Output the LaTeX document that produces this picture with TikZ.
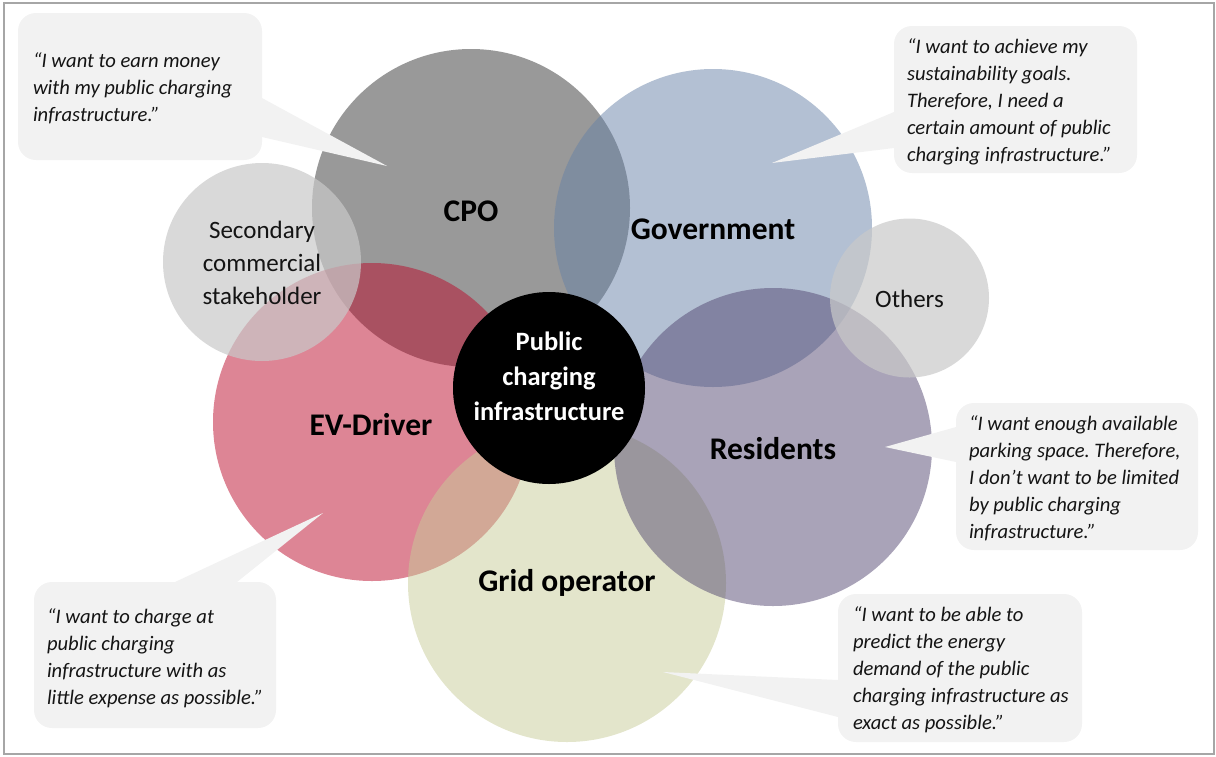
\documentclass[tikz,border=0pt]{standalone}
\usepackage{fontspec}
\setmainfont{Carlito}
\definecolor{cpoC}{RGB}{51,51,51}
\definecolor{govC}{RGB}{103,129,167}
\definecolor{evC}{RGB}{187,11,43}
\definecolor{gridC}{RGB}{199,203,151}
\definecolor{resC}{RGB}{83,71,113}
\definecolor{secC}{RGB}{201,201,201}
\definecolor{qC}{RGB}{242,242,242}
\definecolor{txtC}{RGB}{20,20,20}
\definecolor{frameC}{RGB}{166,166,166}
\begin{document}
\frenchspacing
\hyphenpenalty=10000
\exhyphenpenalty=10000
\begin{tikzpicture}[x=1pt,y=-1pt,
  bigc/.style={circle, minimum size=318pt, inner sep=0pt, fill opacity=0.5},
  smallc/.style={circle, inner sep=0pt, fill=secC, fill opacity=0.7},
  lab/.style={font=\fontsize{31.5}{38}\selectfont\bfseries, text=black},
  sublab/.style={font=\fontsize{25}{33}\selectfont, text=txtC, align=center},
  qbox/.style={rectangle, rounded corners=18pt, fill=qC, inner sep=0pt},
  qtext/.style={anchor=west, align=left, inner sep=0pt,
    font=\fontsize{20.6}{27}\selectfont\itshape, text=txtC}]
\useasboundingbox (0,0) rectangle (1216,756);
\draw[frameC, line width=1.5pt] (4,3) rectangle (1214,754);

% stakeholder circles
\node[bigc, fill=cpoC] (cpo) at (471,208) {};
\node[bigc, fill=govC] (gov) at (713,228) {};
\node[bigc, fill=evC] (ev) at (372,422) {};
\node[bigc, fill=gridC] (grid) at (567,583) {};
\node[bigc, fill=resC] (res) at (773,447) {};
\node[smallc, minimum size=198pt] (sec) at (262,262) {};
\node[smallc, minimum size=159pt] (oth) at (909.5,298) {};
\node[circle, fill=black, minimum size=192pt, inner sep=0pt] (pci) at (549,388) {};

% labels
\node[lab] at (471,211) {CPO};
\node[lab] at (713,229) {Government};
\node[lab] at (371,425) {EV-Driver};
\node[lab] at (773,449) {Residents};
\node[lab] at (567,583) {Grid operator};
\node[font=\fontsize{26.5}{35}\selectfont\bfseries, text=white, align=center] at (549,376) {Public\\charging\\infrastructure};
\node[sublab] at (262,263) {Secondary\\commercial\\stakeholder};
\node[sublab] at (909.5,299) {Others};

% callout tips
\coordinate (tcpo) at (387,166);
\coordinate (tgov) at (772,163);
\coordinate (tres) at (885,447);
\coordinate (tev) at (323,513);
\coordinate (tgrid) at (663,672);

% callout pointers
\fill[qC] (262,98) -- (tcpo) -- (262,137) -- (240,137) -- (240,98) -- cycle;
\fill[qC] (894,112) -- (tgov) -- (894,148) -- (915,148) -- (915,112) -- cycle;
\fill[qC] (956,427) -- (tres) -- (956,462) -- (975,462) -- (975,427) -- cycle;
\fill[qC] (175,582) -- (tev) -- (237,582) -- (237,600) -- (175,600) -- cycle;
\fill[qC] (838,680) -- (tgrid) -- (838,717) -- (860,717) -- (860,680) -- cycle;

% callout boxes
\node[qbox, minimum width=244pt, minimum height=147pt] (qcpo) at (140,86.5) {};
\node[qbox, minimum width=243pt, minimum height=147pt] (qgov) at (1015.5,99.5) {};
\node[qbox, minimum width=242pt, minimum height=147pt] (qres) at (1077,476.5) {};
\node[qbox, minimum width=242pt, minimum height=146pt] (qev) at (155,655) {};
\node[qbox, minimum width=244pt, minimum height=148pt] (qgrid) at (960,668) {};

% callout texts
\node[qtext] (xcpo) at ([xshift=15pt,yshift=-1.5pt]qcpo.west)
  {“I want to earn money\\with my public charging\\infrastructure.”};
\node[qtext] (xgov) at ([xshift=13pt,yshift=-2pt]qgov.west)
  {“I want to achieve my\\sustainability goals.\\Therefore, I need a\\certain amount of public\\charging infrastructure.”};
\node[qtext] (xres) at ([xshift=13pt,yshift=-2pt]qres.west)
  {“I want enough available\\parking space. Therefore,\\I don’t want to be limited\\by public charging\\infrastructure.”};
\node[qtext] (xev) at ([xshift=13pt,yshift=-3.5pt]qev.west)
  {“I want to charge at\\public charging\\infrastructure with as\\little expense as possible.”};
\node[qtext] (xgrid) at ([xshift=15pt,yshift=-2pt]qgrid.west)
  {“I want to be able to\\predict the energy\\demand of the public\\charging infrastructure as\\exact as possible.”};
\end{tikzpicture}
\end{document}
